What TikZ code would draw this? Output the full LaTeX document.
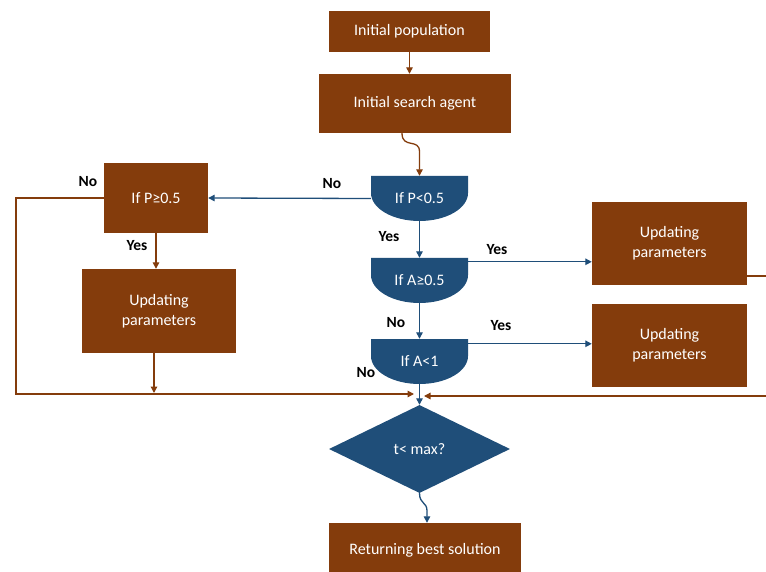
\documentclass[tikz,border=0pt]{standalone}
\usepackage{fontspec}
\setmainfont{Carlito}
\usetikzlibrary{arrows.meta,calc,shapes.geometric}
\definecolor{boxbrown}{HTML}{843C0C}
\definecolor{decblue}{HTML}{1F4E79}
\begin{document}
\begin{tikzpicture}[x=1pt,y=-1pt,
  boxtext/.style={font=\fontsize{16}{20}\selectfont},
  procbox/.style={fill=boxbrown, text=white, boxtext, align=center, inner sep=0pt},
  decbox/.style={minimum width=97pt, minimum height=45pt, inner sep=0pt, text=white, boxtext,
    path picture={\fill[decblue] (path picture bounding box.north west)
      -- (path picture bounding box.north east) -- ++(0,-17pt)
      arc[start angle=0,end angle=-180,x radius=48.5pt,y radius=28pt] -- cycle;}},
  lbl/.style={font=\bfseries\fontsize{15.5}{18}\selectfont, text=black, inner sep=0pt},
  tipstyle/.style={-{Triangle[length=6.5pt,width=6.5pt]}},
  brline/.style={draw=boxbrown, line width=1.3pt},
  blline/.style={draw=decblue, line width=1.3pt},
  brarr/.style={brline, tipstyle},
  blarr/.style={blline, tipstyle}]
\clip (0,0) rectangle (766,572);
\fill[white] (0,0) rectangle (766,572);

% process boxes
\node[procbox, minimum width=161pt, minimum height=41pt] (pop) at (409.5,31.5) {Initial population};
\node[procbox, minimum width=192pt, minimum height=59pt] (agent) at (415,103.5) {Initial search agent};
\node[procbox, minimum width=104pt, minimum height=70pt] (q) at (156,198) {If P≥0.5};
\node[procbox, minimum width=154pt, minimum height=84pt] (u1) at (159,311) {Updating\\parameters};
\node[procbox, minimum width=155pt, minimum height=83pt] (u2) at (669.5,243.5) {Updating\\parameters};
\node[procbox, minimum width=155pt, minimum height=83pt] (u3) at (669.5,345.5) {Updating\\parameters};
\node[procbox, minimum width=192pt, minimum height=55pt] (ret) at (425,550.5) {Returning best solution};

% decision shapes
\node[decbox] (p1) at (419.5,198.5) {If P<0.5};
\node[decbox] (a1) at (419.5,280.5) {If A≥0.5};
\node[decbox] (a2) at (419.5,361.5) {If A<1};
\node[diamond, fill=decblue, text=white, boxtext, minimum width=181pt, minimum height=88pt, inner sep=0pt] (dm) at (419.5,449) {t< max?};

% connectors
\draw[brarr] (pop.south) -- (pop.south |- agent.north);
\draw[brarr] ([xshift=-13pt]agent.south) .. controls +(0,16) and +(0,-14) .. ($(p1.north)+(0,-24)$) -- (p1.north);

\draw[blarr] (p1.west) -- (q.east);
\node[lbl] (nop1) at (332,184) {No};

\coordinate (lft) at (16,394);
\coordinate (jl) at (414,394);
\draw[brarr] (q.west) -| (lft) -- (jl);
\node[lbl] (noq) at (88,182) {No};

\draw[brarr] (q.south) -- (q.south |- u1.north);
\node[lbl] (yesq) at (137,246) {Yes};
\draw[brarr] ([xshift=-5pt]u1.south) -- ($([xshift=-5pt]u1.south |- lft)+(0,-1)$);

\draw[blarr] (p1.south) -- (a1.north);
\node[lbl] (yesp1) at (389,237) {Yes};

\coordinate (a1r) at ($(a1.north east)+(0,4)$);
\draw[blarr] (a1r) -- (a1r -| u2.west);
\node[lbl] (yesa1) at (497,250) {Yes};

\draw[blarr] (a1.south) -- (a2.north);
\node[lbl] (noa1) at (396,323) {No};

\coordinate (a2r) at ($(a2.north east)+(0,5)$);
\draw[blarr] (a2r) -- (a2r -| u3.west);
\node[lbl] (yesa2) at (501,326) {Yes};
\node[lbl] (noa2) at (366,373) {No};

\draw[blarr] (a2.south) -- (dm.north);

\coordinate (rt1) at (766,276);
\draw[brline] (u2.east |- rt1) -- (rt1);
\coordinate (rt2) at (766,396);
\coordinate (jr) at (424,396);
\draw[brarr] (rt2) -- (jr);

\coordinate (rtop) at ($(ret.north)+(2,0)$);
\draw[blarr] (dm.south) .. controls +(0,11) and +(0,-9) .. ($(rtop)+(0,-12)$) -- (rtop);
\end{tikzpicture}
\end{document}
